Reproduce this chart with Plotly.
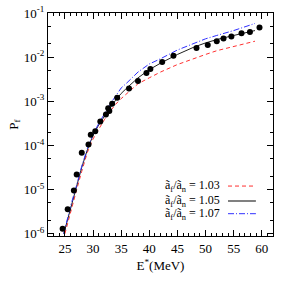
import plotly.graph_objects as go

# Experimental data
exp_E = [24.6, 25.5, 26.6, 27.1, 28.0, 29.2, 29.6, 30.4, 31.3, 32.3, 32.7, 32.9, 33.4,
         34.3, 36.4, 38.0, 39.5, 40.2, 42.3, 44.3, 48.4, 50.4, 52.0, 53.2, 54.6, 56.4, 57.9, 59.6]
exp_P = [1.3e-6, 3.6e-6, 9.5e-6, 2.2e-5, 6.8e-5, 1.05e-4, 1.75e-4, 2.1e-4, 3.5e-4, 5.0e-4, 7.0e-4, 6.0e-4, 8.8e-4,
         1.2e-3, 1.95e-3, 2.9e-3, 4.4e-3, 5.4e-3, 7.8e-3, 1.08e-2, 1.62e-2, 1.88e-2, 2.3e-2, 2.65e-2, 2.95e-2, 3.5e-2, 3.7e-2, 4.7e-2]

# Calculated curves
E_black = [24.8, 25, 26, 27, 28, 29, 30, 31, 32, 33, 34, 35, 36, 38, 40, 42, 45, 48, 50, 52, 55, 58.8]
P_black = [1e-6, 1.25e-6, 4e-6, 1.1e-5, 3.2e-5, 8e-5, 1.7e-4, 2.9e-4, 4.6e-4, 7e-4, 1.05e-3, 1.5e-3, 2.0e-3,
           3.4e-3, 5.2e-3, 7.3e-3, 1.15e-2, 1.7e-2, 2.1e-2, 2.5e-2, 3.1e-2, 4.0e-2]

E_red = [25.0, 26, 27, 28, 29, 30, 31, 32, 33, 34, 35, 36, 38, 40, 42, 45, 48, 50, 52, 55, 58.8]
P_red = [1e-6, 3.2e-6, 9e-6, 2.6e-5, 7e-5, 1.4e-4, 2.4e-4, 3.8e-4, 5.8e-4, 8.5e-4, 1.15e-3, 1.5e-3, 2.5e-3,
         3.4e-3, 4.6e-3, 6.8e-3, 9.5e-3, 1.15e-2, 1.4e-2, 1.75e-2, 2.3e-2]

E_blue = [24.8, 25, 26, 27, 28, 29, 30, 31, 32, 33, 34, 35, 36, 38, 40, 42, 45, 48, 50, 52, 55, 58.8]
P_blue = [1e-6, 1.3e-6, 4.2e-6, 1.15e-5, 3.4e-5, 8.5e-5, 1.8e-4, 3.1e-4, 5.2e-4, 8.5e-4, 1.3e-3, 2.0e-3, 2.6e-3,
          4.6e-3, 7e-3, 9.2e-3, 1.45e-2, 2.1e-2, 2.6e-2, 3.1e-2, 4.0e-2, 5.8e-2]

legend_labels = ["ã<sub>f</sub>/ã<sub>n</sub> = 1.03",
                 "ã<sub>f</sub>/ã<sub>n</sub> = 1.05",
                 "ã<sub>f</sub>/ã<sub>n</sub> = 1.07"]

x_ticks = [25, 30, 35, 40, 45, 50, 55, 60]
y_tickvals = [1e-6, 1e-5, 1e-4, 1e-3, 1e-2, 1e-1]
y_ticktext = ["10<sup>-6</sup>", "10<sup>-5</sup>", "10<sup>-4</sup>",
              "10<sup>-3</sup>", "10<sup>-2</sup>", "10<sup>-1</sup>"]

FONT = "Liberation Serif, Times New Roman, serif"
red = "#ff3030"
blue = "#3030ff"
black = "#202020"

fig = go.Figure()
fig.add_trace(go.Scatter(x=E_red, y=P_red, mode="lines",
                         line=dict(color=red, width=1, dash="4px,3px"), showlegend=False))
fig.add_trace(go.Scatter(x=E_black, y=P_black, mode="lines",
                         line=dict(color=black, width=1), showlegend=False))
fig.add_trace(go.Scatter(x=E_blue, y=P_blue, mode="lines",
                         line=dict(color=blue, width=1, dash="6px,2px,1px,2px"), showlegend=False))
fig.add_trace(go.Scatter(x=exp_E, y=exp_P, mode="markers",
                         marker=dict(color="black", size=6), showlegend=False))

# Legend (text left, line sample right, as in reference)
leg_y = [0.224, 0.157, 0.100]
styles = [dict(color=red, width=1, dash="4px,3px"),
          dict(color="#808080", width=2),
          dict(color=blue, width=1, dash="6px,2px,1px,2px")]
for lbl, yy, st in zip(legend_labels, leg_y, styles):
    fig.add_annotation(xref="paper", yref="paper", x=0.775, y=yy, text=lbl,
                       showarrow=False, xanchor="right", yanchor="middle",
                       font=dict(family=FONT, size=12, color="black"))
    fig.add_shape(type="line", xref="paper", yref="paper", x0=0.80, x1=0.924, y0=yy, y1=yy,
                  line=st)

axis_common = dict(showline=True, linecolor="black", linewidth=1, mirror="allticks",
                   ticks="inside", ticklen=6, tickcolor="black", showgrid=False, zeroline=False,
                   automargin=False,
                   tickfont=dict(family=FONT, size=13, color="black"))

fig.update_xaxes(range=[22, 62], tickvals=x_ticks,
                 minor=dict(ticks="inside", ticklen=3, dtick=1, tickcolor="black", showgrid=False),
                 title=dict(text="E<sup>*</sup>(MeV)", font=dict(family=FONT, size=13, color="black"),
                            standoff=6),
                 **axis_common)
fig.update_yaxes(type="log", range=[-6.05, -1], tickvals=y_tickvals, ticktext=y_ticktext,
                 minor=dict(ticks="inside", ticklen=3, tickcolor="black", showgrid=False),
                 title=dict(text="P<sub>f</sub>", font=dict(family=FONT, size=13, color="black"),
                            standoff=2),
                 **axis_common)

fig.update_layout(width=291, height=291, margin=dict(l=48, r=18, t=13, b=55),
                  plot_bgcolor="white", paper_bgcolor="white",
                  font=dict(family=FONT, color="black"))

fig.write_html("out.html", config={"displayModeBar": False},
               post_script="document.body.style.margin='0';")
